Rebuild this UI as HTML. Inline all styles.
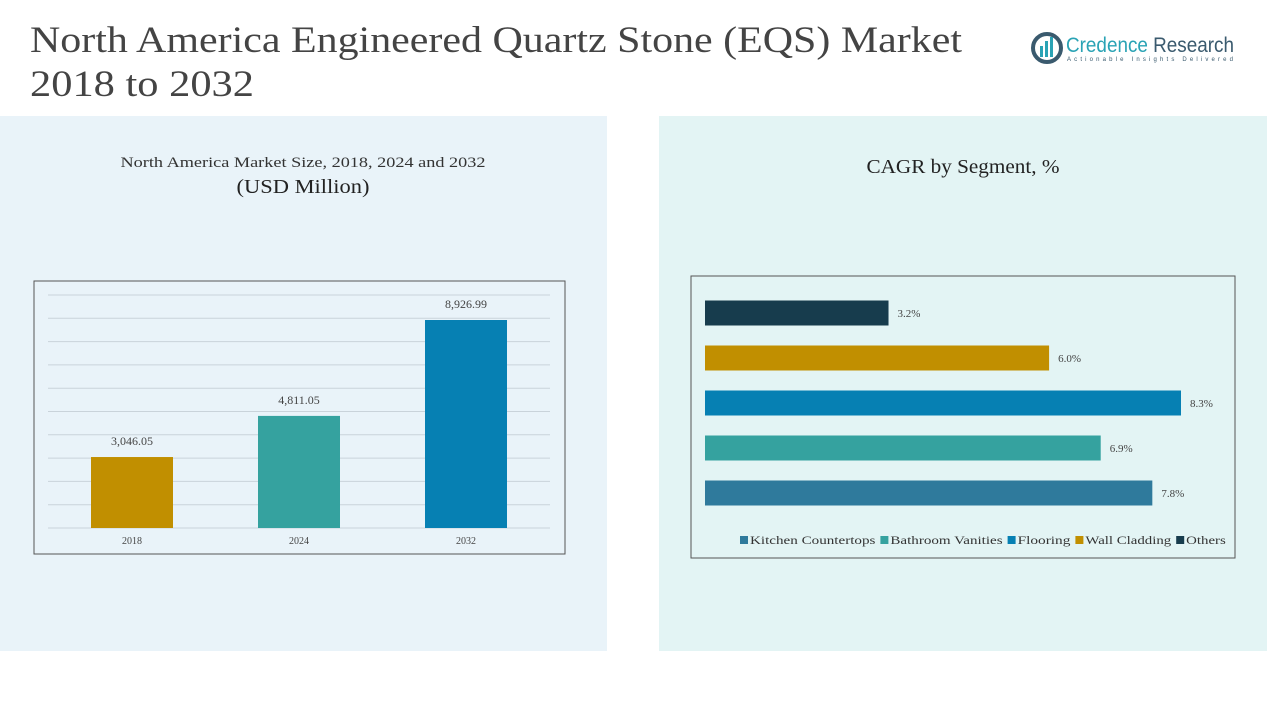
<!DOCTYPE html>
<html><head><meta charset="utf-8"><style>
html,body{margin:0;padding:0;background:#fff;}
svg{display:block;}
text{font-family:"Liberation Serif","Noto Serif CJK SC",serif;}
</style></head><body>
<svg id="root" width="1267" height="713" viewBox="0 0 1267 713" xmlns="http://www.w3.org/2000/svg">
<rect x="0" y="0" width="1267" height="713" fill="#ffffff"/>
<rect x="0" y="116" width="607" height="535" fill="#e9f3f9"/>
<rect x="659" y="116" width="608" height="535" fill="#e3f4f4"/>
<text x="30" y="52" font-size="37" fill="#444" textLength="932" lengthAdjust="spacingAndGlyphs">North America Engineered Quartz Stone (EQS) Market</text>
<text x="30" y="96" font-size="37" fill="#444" textLength="224" lengthAdjust="spacingAndGlyphs">2018 to 2032</text>
<g>
<circle cx="1047" cy="48" r="14" fill="none" stroke="#3a5a6e" stroke-width="4"/>
<rect x="1040" y="46" width="3" height="11" fill="#2aa3b5"/>
<rect x="1045" y="41" width="3" height="16" fill="#2aa3b5"/>
<rect x="1050" y="37" width="3" height="20" fill="#2aa3b5"/>
<text x="1066" y="52" font-size="21" fill="#2aa3b5" textLength="168" lengthAdjust="spacingAndGlyphs" style="font-family:'Liberation Sans',sans-serif">Credence <tspan fill="#3a5a6e">Research</tspan></text>
<text x="1067" y="61" font-size="6" fill="#3a5a6e" textLength="166" lengthAdjust="spacing" style="font-family:'Liberation Sans',sans-serif">Actionable Insights Delivered</text>
</g>
<text x="303" y="167" font-size="15" fill="#333" text-anchor="middle" textLength="365" lengthAdjust="spacingAndGlyphs">North America Market Size, 2018, 2024 and 2032</text>
<text x="303" y="193" font-size="20" fill="#222" text-anchor="middle" textLength="133" lengthAdjust="spacingAndGlyphs">(USD Million)</text>
<text x="963" y="173" font-size="20" fill="#222" text-anchor="middle" textLength="193" lengthAdjust="spacingAndGlyphs">CAGR by Segment, %</text>
<rect x="34" y="281" width="531" height="273" fill="none" stroke="#555" stroke-width="1"/>
<rect x="691" y="276" width="544" height="282" fill="none" stroke="#555" stroke-width="1"/>
<g id="g1"></g>
<g id="g2"></g>
</svg>
<script>
const years = ["2018", "2024", "2032"];
const marketValues = [3046.05, 4811.05, 8926.99];
const valueLabels = ["3,046.05", "4,811.05", "8,926.99"];
const barColors = ["#c18f00", "#35a29f", "#0680b3"];
const gridTicks = [0,1000,2000,3000,4000,5000,6000,7000,8000,9000,10000];

const segments = ["Others", "Wall Cladding", "Flooring", "Bathroom Vanities", "Kitchen Countertops"];
const cagrValues = [3.2, 6.0, 8.3, 6.9, 7.8];
const cagrLabels = ["3.2%", "6.0%", "8.3%", "6.9%", "7.8%"];
const segColors = ["#173c4d", "#c18f00", "#0680b3", "#35a29f", "#2f7a9c"];
const legendItems = ["Kitchen Countertops", "Bathroom Vanities", "Flooring", "Wall Cladding", "Others"];
const legendColors = ["#2f7a9c", "#35a29f", "#0680b3", "#c18f00", "#173c4d"];

const NS = "http://www.w3.org/2000/svg";
function mk(tag, attrs, parent, txt){
  const e = document.createElementNS(NS, tag);
  for (const k in attrs) e.setAttribute(k, attrs[k]);
  if (txt !== undefined) e.textContent = txt;
  parent.appendChild(e);
  return e;
}
const g1 = document.getElementById("g1");
const y = v => 528 - v / 10000 * 233;
const xc = i => 132 + i * 167;
gridTicks.forEach(t => {
  const l = mk("line", {x1:48, x2:550, y1:y(t), y2:y(t), stroke:"#c9d3da", "stroke-width":1}, g1);
  
  
});
years.forEach((yr, i) => {
  const b = mk("rect", {x:xc(i)-41, y:y(marketValues[i]), width:82, height:528-y(marketValues[i]), fill:barColors[i]}, g1);
  
  
  const v = mk("text", {x:xc(i), y:y(marketValues[i])-12, "font-size":12, fill:"#444", "text-anchor":"middle"}, g1, valueLabels[i]);
  
  
  const t = mk("text", {x:xc(i), y:544, "font-size":10, fill:"#444", "text-anchor":"middle"}, g1, yr);
  
  
});

const g2 = document.getElementById("g2");
const xs = v => 705 + v / 8.3 * 476;
const yc = i => 313 + i * 45;
segments.forEach((s, i) => {
  const b = mk("rect", {x:705, y:yc(i)-12.5, width:xs(cagrValues[i])-705, height:25, fill:segColors[i]}, g2);
  
  
  const t = mk("text", {x:xs(cagrValues[i])+9, y:yc(i)+4, "font-size":11, fill:"#444"}, g2, cagrLabels[i]);
  
  
});
let lx = 740;
legendItems.forEach((s, i) => {
  const r = mk("rect", {x:lx, y:536, width:8, height:8, fill:legendColors[i]}, g2);
  
  
  const w = s.length * 6.6;
  const t = mk("text", {x:lx+10, y:544, "font-size":12, fill:"#333", textLength:w, lengthAdjust:"spacingAndGlyphs"}, g2, s);
  
  
  lx += 10 + w + 5;
});
</script>
</body></html>
